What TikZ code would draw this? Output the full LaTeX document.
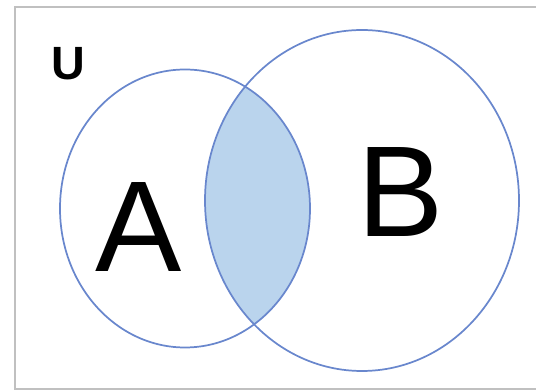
\documentclass[tikz,border=0pt]{standalone}
\usepackage{fontspec}
\setmainfont{Liberation Sans}
\definecolor{setline}{RGB}{105,135,205}
\definecolor{setfill}{RGB}{186,212,237}
\definecolor{framegray}{RGB}{192,192,192}
\begin{document}
\begin{tikzpicture}[x=0.75pt,y=-0.75pt,
		setedge/.style={draw=setline, line width=1.3pt},
		biglabel/.style={inner sep=0pt, font=\fontsize{97}{97}\selectfont}]
	\useasboundingbox (0,0) rectangle (536,391);
	\draw[framegray, line width=1.5pt] (536,7.5) -- (15,7.5) -- (15,389) -- (536,389);
	% shaded part: A and B
	\begin{scope}
		\clip (185,208.5) ellipse [x radius=125, y radius=139];
		\fill[setfill] (362,200.5) ellipse [x radius=157, y radius=170.5];
	\end{scope}
	\draw[setedge] (185,208.5) ellipse [x radius=125, y radius=139];
	\draw[setedge] (362,200.5) ellipse [x radius=157, y radius=170.5];
	\node[biglabel] (labelA) at (138.5,227.5) {A};
	\node[biglabel] (labelB) at (400.5,191.7) {B};
	\node[inner sep=0pt, font=\fontsize{35}{35}\selectfont\bfseries] (labelU) at (68.5,64) {U};
\end{tikzpicture}
\end{document}
